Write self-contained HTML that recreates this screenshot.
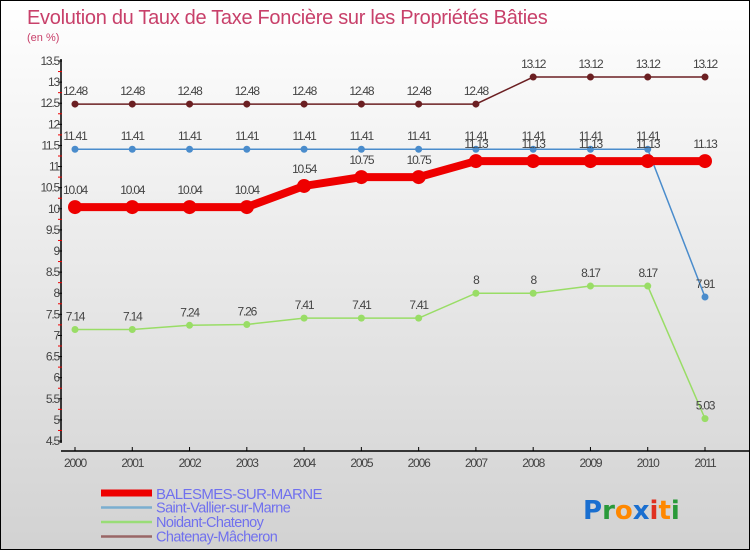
<!DOCTYPE html>
<html><head><meta charset="utf-8"><style>
body{margin:0;width:750px;height:550px;overflow:hidden;font-family:"Liberation Sans","DejaVu Sans",sans-serif}
#wrap{position:relative;width:748px;height:548px;border:1px solid #000;background:linear-gradient(#ffffff,#d2d2d2)}
</style></head><body>
<div id="wrap">
<svg id="chart" width="748" height="548"></svg>
</div>
<script>
const years=[2000,2001,2002,2003,2004,2005,2006,2007,2008,2009,2010,2011];
const balesmes=[10.04,10.04,10.04,10.04,10.54,10.75,10.75,11.13,11.13,11.13,11.13,11.13];
const saintVallier=[11.41,11.41,11.41,11.41,11.41,11.41,11.41,11.41,11.41,11.41,11.41,7.91];
const noidant=[7.14,7.14,7.24,7.26,7.41,7.41,7.41,8,8,8.17,8.17,5.03];
const chatenay=[12.48,12.48,12.48,12.48,12.48,12.48,12.48,12.48,13.12,13.12,13.12,13.12];
const yTicks=[4.5,5,5.5,6,6.5,7,7.5,8,8.5,9,9.5,10,10.5,11,11.5,12,12.5,13,13.5];
const seriesNames=["BALESMES-SUR-MARNE","Saint-Vallier-sur-Marne","Noidant-Chatenoy","Chatenay-Mâcheron"];

const NS="http://www.w3.org/2000/svg";
const svg=document.getElementById('chart');
function el(t,a,p){const e=document.createElementNS(NS,t);for(const k in a)e.setAttribute(k,a[k]);(p||svg).appendChild(e);return e;}
const X=i=>74+i*(630/11);
const Y=v=>440-(v-4.5)*(380/9);
function fmt(v){return String(v);}

let t=el('text',{x:26,y:23,'font-size':20,fill:'#c8406a','letter-spacing':-0.3});t.textContent="Evolution du Taux de Taxe Foncière sur les Propriétés Bâties";


t=el('text',{x:26,y:40,'font-size':11,fill:'#c8406a'});t.textContent="(en %)";



let ax=el('line',{x1:60,y1:58,x2:60,y2:442,stroke:'#000','stroke-width':1.5});


yTicks.forEach((v,i)=>{
  const y=Y(v);
  el('line',{x1:57,y1:y,x2:61,y2:y,stroke:'#000'});
  if(i<yTicks.length-1){el('line',{x1:57,y1:Y(v+0.25),x2:61,y2:Y(v+0.25),stroke:'#e00'});}
  const lt=el('text',{x:58,y:y+4,'font-size':12,fill:'#444','text-anchor':'end','letter-spacing':-1.2});lt.textContent=fmt(v);
  
  
});
ax=el('line',{x1:60,y1:450,x2:748,y2:450,stroke:'#000','stroke-width':1.5});


years.forEach((yr,i)=>{
  el('line',{x1:X(i),y1:446,x2:X(i),y2:450,stroke:'#000'});
  const lt=el('text',{x:X(i),y:466,'font-size':12,fill:'#444','text-anchor':'middle','letter-spacing':-1.2});lt.textContent=yr;
  
  
});

function series(data,color,w,r,name,labelDy){
  const g=el('g',{});
  
  
  el('polyline',{points:data.map((v,i)=>X(i)+','+Y(v)).join(' '),fill:'none',stroke:color,'stroke-width':w},g);
  data.forEach((v,i)=>{
    const c=el('circle',{cx:X(i),cy:Y(v),r:r,fill:color},g);
    
    
    const lt=el('text',{x:X(i),y:Y(v)+labelDy,'font-size':12,fill:'#444','text-anchor':'middle','letter-spacing':-1.2},g);
    lt.textContent=fmt(v);
    
    
  });
}
series(chatenay,'#6b1f22',1.5,3.5,'chatenay-macheron',-9);
series(saintVallier,'#4a8ccc',1.5,3.5,'saint-vallier',-9);
series(noidant,'#99dd66',1.5,3.5,'noidant-chatenoy',-9);
series(balesmes,'#ee0000',8,7,'balesmes',-13);

const legColors=['#ee0000','#7aaed0','#99dd77','#996666'];
const legW=[7,2.5,2.5,2.5];
seriesNames.forEach((n,i)=>{
  const y=492+i*14.5;
  const g=el('g',{});
  
  
  el('line',{x1:100,y1:y,x2:151,y2:y,stroke:legColors[i],'stroke-width':legW[i]},g);
  const lt=el('text',{x:155,y:y+5+(i==0?1:0),'font-size':i==0?15:14.5,fill:'#7070ee','letter-spacing':-0.6},g);
  lt.textContent=n;
});
const logo=el('text',{x:582,y:518,'font-size':26,'font-weight':'bold','font-family':'"DejaVu Sans",sans-serif'});


[['P','#1a6fd0'],['r','#2a9a3a'],['o','#ff8800'],['x','#1a6fd0'],['i','#e03020'],['t','#ff8800'],['i','#2a9a3a']].forEach(([c,f])=>{const s=el('tspan',{fill:f},logo);s.textContent=c;});
</script>
</body></html>
